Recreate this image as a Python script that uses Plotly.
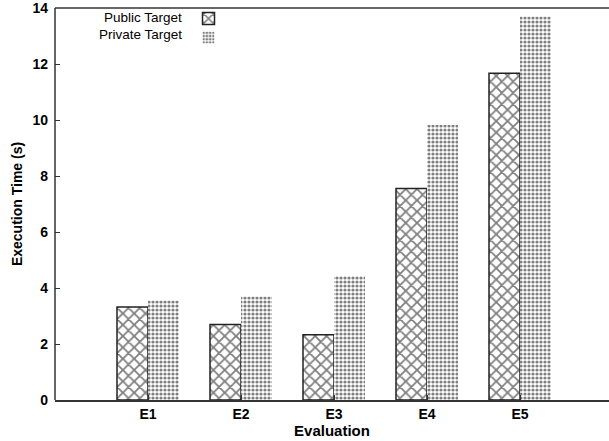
import plotly.graph_objects as go

categories = ["E1", "E2", "E3", "E4", "E5"]
public_target = [3.32, 2.70, 2.33, 7.55, 11.67]
private_target = [3.55, 3.70, 4.43, 9.82, 13.70]
series_names = ["Public Target", "Private Target"]
y_ticks = [0, 2, 4, 6, 8, 10, 12, 14]

font_family = "Liberation Sans, Arial, Helvetica, sans-serif"

fig = go.Figure()
fig.add_trace(go.Bar(
    x=categories, y=public_target, name=series_names[0],
    marker=dict(color="white", line=dict(color="#222222", width=1.5),
                pattern=dict(shape="x", fgcolor="#000000", bgcolor="white",
                             size=8, solidity=0.4, fillmode="overlay")),
))
fig.add_trace(go.Bar(
    x=categories, y=private_target, name=series_names[1],
    marker=dict(color="white", line=dict(color="#555555", width=0),
                pattern=dict(shape=".", fgcolor="#000000", bgcolor="white",
                             size=4, solidity=0.5, fillmode="overlay")),
))

# legend text drawn to the left of the swatches (gnuplot style)
for i, nm in enumerate(series_names):
    fig.add_annotation(text=nm, xref="paper", yref="paper",
                       x=0.233, y=1 - (10 + 16.5 * i) / 392, xanchor="right",
                       yanchor="middle", showarrow=False,
                       font=dict(size=13.5, family=font_family, color="black"))

# frame lines: left and top only (no right border in the reference)
fig.add_shape(type="line", xref="paper", yref="paper", x0=0, x1=0, y0=0, y1=1,
              line=dict(color="#333333", width=1.5))
fig.add_shape(type="line", xref="paper", yref="paper", x0=0, x1=1, y0=1, y1=1,
              line=dict(color="#333333", width=1.5))

fig.update_layout(
    width=609, height=441,
    margin=dict(l=55, r=0, t=8, b=41, autoexpand=False),
    paper_bgcolor="white", plot_bgcolor="white",
    barmode="group", bargap=1/3, bargroupgap=0,
    font=dict(family=font_family, color="black"),
    showlegend=True,
    legend=dict(x=0.241, y=1.01, xanchor="left", yanchor="top",
                bgcolor="rgba(0,0,0,0)", borderwidth=0,
                font=dict(size=10, color="rgba(0,0,0,0)"),
                tracegroupgap=0, itemwidth=30),
)
fig.update_xaxes(
    type="category", range=[-1, 4.957], automargin=False,
    showline=True, linecolor="#333333", linewidth=1.5, mirror=False,
    ticks="inside", ticklen=5, tickcolor="#333333",
    tickvals=categories, ticktext=["<b>%s</b>" % c for c in categories],
    tickfont=dict(size=14, family=font_family, color="black"),
    showgrid=False, zeroline=False,
    title=dict(text="<b>Evaluation</b>", font=dict(size=15), standoff=2),
)
fig.update_yaxes(
    range=[0, 14], automargin=False,
    showline=False, mirror=False,
    ticks="inside", ticklen=5, tickcolor="#333333",
    tickvals=y_ticks, ticktext=["<b>%d</b>" % v for v in y_ticks],
    tickfont=dict(size=14, family=font_family, color="black"),
    ticklabelstandoff=6, ticklabeloverflow="allow",
    showgrid=False, zeroline=False,
    title=dict(text="<b>Execution Time (s)</b>", font=dict(size=14), standoff=6),
)

fig.write_html("out.html", config={"displayModeBar": False},
               post_script="document.body.style.margin='0';")
